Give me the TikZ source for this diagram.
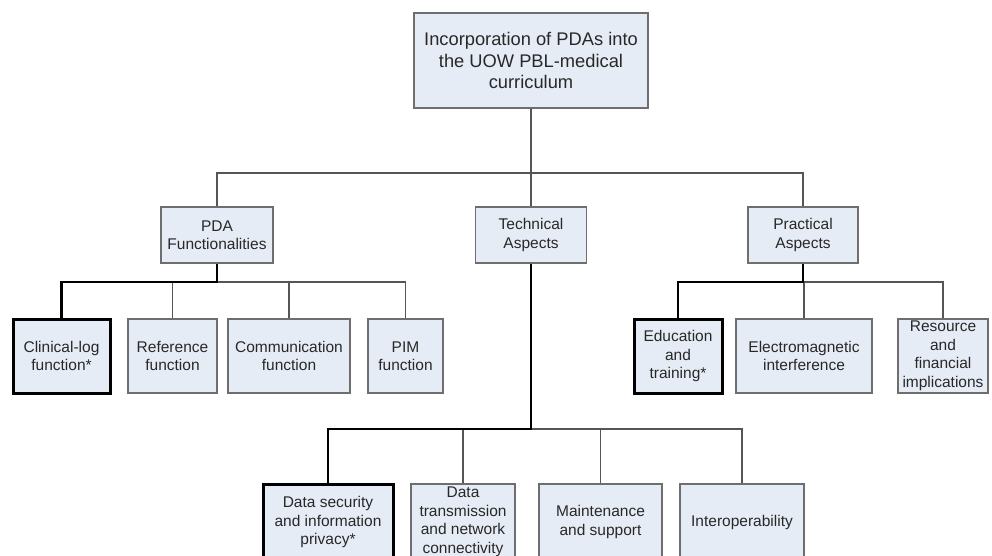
\documentclass[tikz,border=0pt]{standalone}
\usepackage{fontspec}
\setmainfont{Liberation Sans}
\begin{document}
\begin{tikzpicture}[x=1pt,y=-1pt,
  box/.style={draw=boxline, line width=1.3pt, fill=boxfill, rectangle, inner sep=0pt,
    align=center, font=\fontsize{15.5}{18.5}\selectfont, text=textc},
  boldbox/.style={box, draw=black, line width=3pt},
  conn/.style={draw=linec, line width=1.5pt},
  hl/.style={draw=black, line width=2.6pt}]
\definecolor{boxfill}{RGB}{230,236,245}
\definecolor{boxline}{RGB}{110,110,110}
\definecolor{linec}{RGB}{85,85,85}
\definecolor{textc}{RGB}{40,40,40}
\clip (0,0) rectangle (992,555);
\fill[white] (0,0) rectangle (992,555);
% root
\node[box, minimum width=234pt, minimum height=95pt, font=\fontsize{18.3}{21.5}\selectfont] (root) at (531,60.5)
  {Incorporation of PDAs into\\the UOW PBL-medical\\curriculum};
% level 2
\node[box, minimum width=112pt, minimum height=56pt] (pda) at (217,235) {PDA\\Functionalities};
\node[box, minimum width=111pt, minimum height=56pt] (tech) at (531,235) {Technical\\Aspects};
\node[box, minimum width=110pt, minimum height=56pt] (prac) at (803,235) {Practical\\Aspects};
% level 3
\node[boldbox, minimum width=97pt, minimum height=74pt] (clin) at (61.5,356) {Clinical-log\\function*};
\node[box, minimum width=89pt, minimum height=74pt] (ref) at (172.5,356) {Reference\\function};
\node[box, minimum width=122pt, minimum height=74pt] (comm) at (289,356) {Communication\\function};
\node[box, minimum width=75pt, minimum height=74pt] (pim) at (405.5,356) {PIM\\function};
\node[boldbox, minimum width=88pt, minimum height=74pt] (edu) at (678,356) {Education\\and\\training*};
\node[box, minimum width=136pt, minimum height=74pt] (emi) at (804,356) {Electromagnetic\\interference};
\node[box, minimum width=90pt, minimum height=74pt] (res) at (943,356) {Resource\\and\\financial\\implications};
% level 4
\node[boldbox, minimum width=130pt, minimum height=76pt] (sec) at (328,522) {Data security\\and information\\privacy*};
\node[box, minimum width=104pt, minimum height=76pt] (trans) at (463,522) {Data\\transmission\\and network\\connectivity};
\node[box, minimum width=123pt, minimum height=76pt] (maint) at (600.5,522) {Maintenance\\and support};
\node[box, minimum width=124pt, minimum height=76pt] (inter) at (742,522) {Interoperability};
% junctions
\coordinate (j1) at (531,173);
\coordinate (j2) at (217,282);
\coordinate (j3) at (803,282);
\coordinate (j4) at (531,429);
% connectors
\draw[conn] (root.south) -- (j1);
\draw[conn] (pda.north) |- (j1) -| (prac.north);
\draw[conn] (j1) -- (tech.north);
\draw[conn] (j2) -| (pim.north);
\draw[conn] (ref.north) -- (ref.north |- j2);
\draw[conn] (comm.north) -- (comm.north |- j2);
\draw[hl] (pda.south) -- (j2) -| (clin.north);
\draw[conn] (j3) -| (res.north);
\draw[conn] (emi.north) -- (emi.north |- j3);
\draw[hl] (prac.south) -- (j3) -| (edu.north);
\draw[conn] (j4) -| (inter.north);
\draw[conn] (trans.north) -- (trans.north |- j4);
\draw[conn] (maint.north) -- (maint.north |- j4);
\draw[hl] (tech.south) -- (j4) -| (sec.north);
\end{tikzpicture}
\end{document}
